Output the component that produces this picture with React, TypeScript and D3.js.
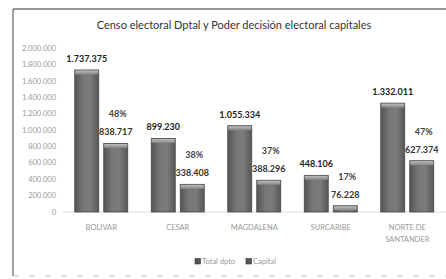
import * as d3 from 'd3'
import React from 'react'

const categories = ['BOLIVAR', 'CESAR', 'MAGDALENA', 'SURCARIBE', 'NORTE DE SANTANDER']
const totalDpto = [1737375, 899230, 1055334, 448106, 1332011]
const capital = [838717, 338408, 388296, 76228, 627374]
const percents = ['48%', '38%', '37%', '17%', '47%']
const series = ['Total dpto', 'Capital']
const yTicks = [0, 200000, 400000, 600000, 800000, 1000000, 1200000, 1400000, 1600000, 1800000, 2000000]

const W = 446
const H = 279
const font = 'Lato, "Open Sans", sans-serif'

const loc = d3.formatLocale({ decimal: ',', thousands: '.', grouping: [3], currency: ['$', ''] })
const fmt = loc.format(',d')

// splits long category names into two lines
const wrap = (s: string) => (s === 'NORTE DE SANTANDER' ? ['NORTE DE', 'SANTANDER'] : [s])

const App = () => {
  const x = d3.scaleBand().domain(categories).range([63, 445.5]).padding(0)
  const bw = x.bandwidth()
  const inner = d3
    .scaleBand()
    .domain(series)
    .range([bw * 0.1536, bw * 0.8464])
    .paddingInner(0.1724)
  const y = d3.scaleLinear().domain([0, 2000000]).range([212, 48.5])

  const bar = (cx: number, v: number, key: string) => {
    const top = y(v)
    const h = y(0) - top
    return (
      <g key={key}>
        <rect x={cx} y={top} width={inner.bandwidth()} height={h} fill="url(#barGrad)" stroke="#484848" strokeWidth={0.8} />
        <rect
          x={cx + 0.5}
          y={top + 0.5}
          width={inner.bandwidth() - 1}
          height={Math.min(4, h - 1)}
          fill="url(#capGrad)"
        />
      </g>
    )
  }

  return (
    <svg width={W} height={H} style={{ position: 'absolute', left: 0, top: 0, background: '#fff' }}>
      <defs>
        <linearGradient id="barGrad" x1="0" x2="1" y1="0" y2="0">
          <stop offset="0%" stopColor="#555" />
          <stop offset="35%" stopColor="#777" />
          <stop offset="65%" stopColor="#7b7b7b" />
          <stop offset="100%" stopColor="#575757" />
        </linearGradient>
        <linearGradient id="capGrad" x1="0" x2="0" y1="0" y2="1">
          <stop offset="0%" stopColor="#bdbdbd" />
          <stop offset="100%" stopColor="#858585" />
        </linearGradient>
      </defs>

      {/* frame */}
      <line x1={13} x2={13} y1={9} y2={276} stroke="#444" strokeWidth={1} />
      <line x1={13} x2={W} y1={9} y2={9} stroke="#333" strokeWidth={1.2} />
      <line x1={13} x2={W} y1={276} y2={276} stroke="#bbb" strokeWidth={0.8} strokeDasharray="6 10" />

      <text x={234} y={29} textAnchor="middle" fontFamily={font} fontSize={11} fill="#333">
        Censo electoral Dptal y Poder decisión electoral capitales
      </text>

      {/* y axis */}
      {yTicks.map((t) => (
        <text key={t} x={56} y={y(t) + 2.5} textAnchor="end" fontFamily={font} fontSize={7.5} fill="#999">
          {fmt(t)}
        </text>
      ))}
      <line x1={63} x2={W} y1={y(0)} y2={y(0)} stroke="#d8d8d8" strokeWidth={0.8} />

      {categories.map((c, i) => {
        const x0 = x(c)!
        const xt = x0 + inner('Total dpto')!
        const xc = x0 + inner('Capital')!
        const half = inner.bandwidth() / 2
        return (
          <g key={c}>
            {bar(xt, totalDpto[i], 't')}
            {bar(xc, capital[i], 'c')}
            <text x={xt + half} y={y(totalDpto[i]) - 8} textAnchor="middle" fontFamily={font} fontWeight="bold" fontSize={9} fill="#222">
              {fmt(totalDpto[i])}
            </text>
            <text x={xc + half} y={y(capital[i]) - 8} textAnchor="middle" fontFamily={font} fontWeight="bold" fontSize={9} fill="#333">
              {fmt(capital[i])}
            </text>
            <text x={xc + half + 2} y={y(capital[i]) - 26} textAnchor="middle" fontFamily={font} fontWeight="bold" fontSize={9} fill="#444">
              {percents[i]}
            </text>
            {wrap(c).map((l, k) => (
              <text key={l} x={x0 + bw / 2} y={230 + k * 12} textAnchor="middle" fontFamily={font} fontSize={7.5} fill="#999">
                {l}
              </text>
            ))}
          </g>
        )
      })}

      {/* legend */}
      {series.map((s, i) => {
        const lx = i === 0 ? 195 : 246
        return (
          <g key={s}>
            <rect x={lx} y={258.5} width={5.5} height={5.5} fill="#555" stroke="#333" strokeWidth={0.6} />
            <text x={lx + 7} y={264} fontFamily={font} fontSize={7.5} fill="#999">
              {s}
            </text>
          </g>
        )
      })}
    </svg>
  )
}

export default App
